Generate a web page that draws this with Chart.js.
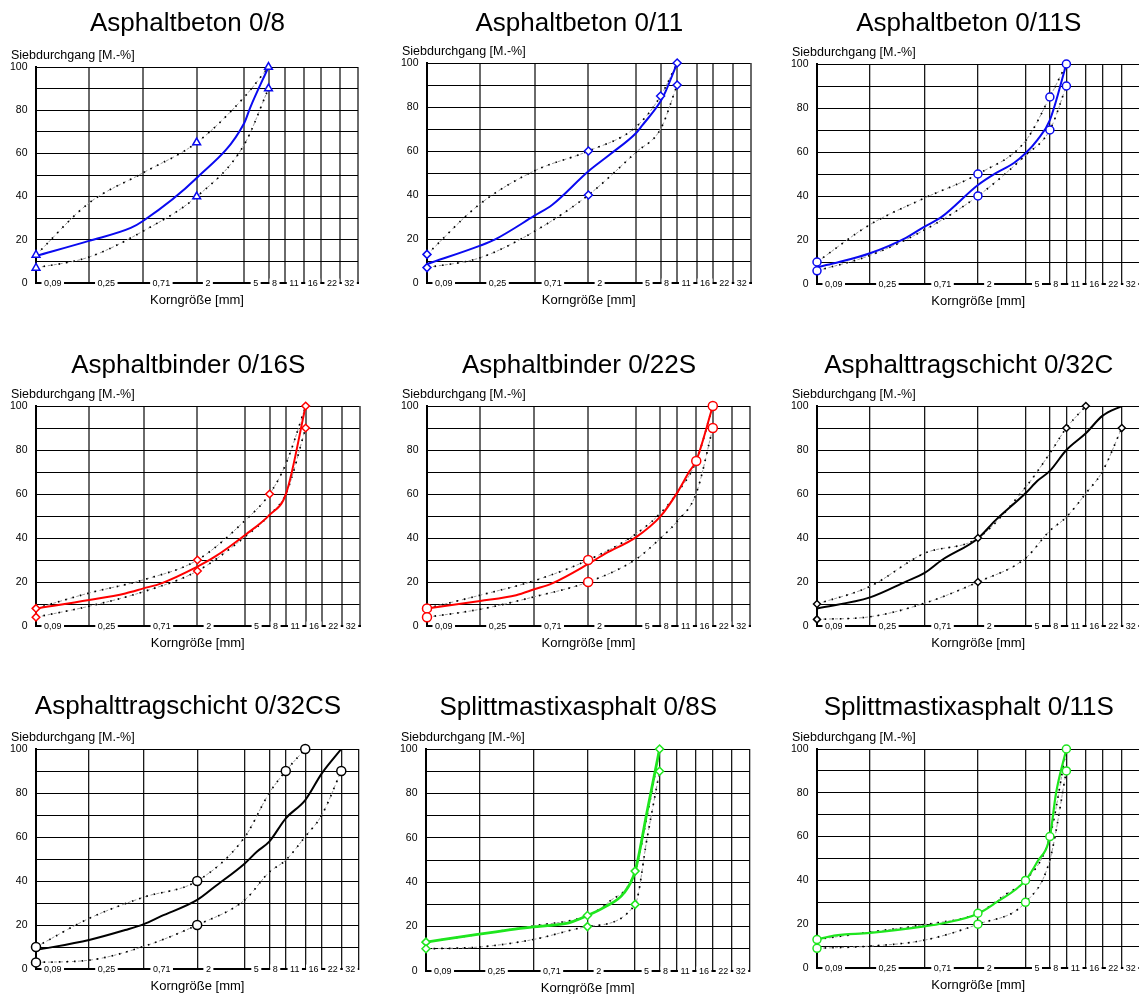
<!DOCTYPE html>
<html><head><meta charset="utf-8">
<script src="https://cdn.jsdelivr.net/npm/chart.js@4/dist/chart.umd.min.js"></script>
<style>
html,body{margin:0;padding:0;background:#fff;overflow:hidden;width:1139px;height:994px;position:relative}
canvas{position:absolute}
</style>
</head><body>
<script>
// ---- axis data ----
const sieveSizes  = [0.09, 0.25, 0.71, 2, 5, 8, 11, 16, 22, 32];
const sieveLabels = ['0,09', '0,25', '0,71', '2', '5', '8', '11', '16', '22', '32'];
const xMin = 0.09, xMax = 45;
const yTicksLabelled = [0, 20, 40, 60, 80, 100];

// ---- Asphaltbeton 0/8 ----
const ab8Upper = [[0.09,13],[0.25,37],[0.71,51],[2,65],[5,86],[8,100]];
const ab8Lower = [[0.09,7],[0.25,12],[0.71,24],[2,40],[5,64],[8,90]];
const ab8Curve = [[0.09,12.5],[0.25,19.5],[0.56,25.5],[0.71,28.7],[2,48.6],[5,74],[5.6,81],[8,100]];
const ab8Marks = [[0.09,13],[0.09,7],[2,65],[2,40],[8,100],[8,90]];

// ---- Asphaltbeton 0/11 ----
const ab11Upper = [[0.09,13],[0.25,36],[0.71,51],[2,60],[5,71],[8,85],[11,100]];
const ab11Lower = [[0.09,7],[0.25,11.5],[0.71,23.5],[2,40],[5,59.5],[8,70],[11,90]];
const ab11Curve = [[0.09,8.6],[0.25,17],[0.33,19.7],[0.71,30.6],[1,35.6],[2,50.8],[3,58.3],[5,68.2],[5.6,71.5],[8,82.6],[8.8,87],[11,100]];
const ab11Marks = [[0.09,13],[0.09,7],[2,60],[2,40],[8,85],[11,100],[11,90]];

// ---- Asphaltbeton 0/11S ----
const ab11sUpper = [[0.09,10],[0.25,27],[0.71,39],[2,50],[5,65],[8,85],[11,100]];
const ab11sLower = [[0.09,6],[0.25,13],[0.71,24.5],[2,40],[5,58.5],[8,70],[11,90]];
const ab11sCurve = [[0.09,7.6],[0.125,9.4],[0.25,14],[0.5,21],[0.71,26],[1,30.6],[2,45],[2.8,50.3],[4,55],[5,59.4],[6.3,65.5],[8,74.5],[11,100]];
const ab11sMarks = [[0.09,10],[0.09,6],[2,50],[2,40],[8,85],[8,70],[11,100],[11,90]];

// ---- Asphaltbinder 0/16S ----
const bi16Upper = [[0.09,8],[0.25,15],[0.71,21],[2,30],[5,48],[8,60],[11,74],[16,100]];
const bi16Lower = [[0.09,4],[0.25,9],[0.71,15.6],[2,25],[5,40.6],[8,50.5],[11,60.3],[16,90]];
const bi16Curve = [[0.09,8],[0.25,11.8],[0.5,14.8],[0.71,17.1],[1,19.4],[2,27],[2.8,31.5],[5,41.4],[8,50.5],[11,60.3],[16,100]];
const bi16Marks = [[0.09,8],[0.09,4],[2,30],[2,25],[8,60],[16,100],[16,90]];

// ---- Asphaltbinder 0/22S ----
const bi22Upper = [[0.09,8],[0.25,14],[0.71,20.6],[2,30],[5,41.8],[8,51.2],[11,60.3],[16,75],[22,100]];
const bi22Lower = [[0.09,4],[0.25,7.6],[0.71,13.3],[2,20],[5,30.3],[8,39.8],[11,47.4],[16,60.3],[22,90]];
const bi22Curve = [[0.09,8],[0.25,11.4],[0.5,14],[0.71,16.7],[1,19.4],[2,28.2],[2.8,33],[5,40.3],[8,49.7],[11,60.3],[14,70.2],[16,75.2],[22,100]];
const bi22Marks = [[0.09,8],[0.09,4],[2,30],[2,20],[16,75],[22,100],[22,90]];

// ---- Asphalttragschicht 0/32C ----
const at32cUpper = [[0.09,10],[0.25,18],[0.71,33],[2,40],[5,63],[8,78.5],[11,90],[16,100]];
const at32cLower = [[0.09,3],[0.25,4.2],[0.71,10.3],[2,20],[5,30.8],[8,43.3],[11,49.5],[16,60.3],[22,70.2],[32,90]];
const at32cCurve = [[0.09,8],[0.25,13],[0.5,20.2],[0.71,24],[1,30],[2,39.8],[2.8,48],[5,60.3],[6.3,66],[8,70.5],[11,80],[16,87.6],[22,95.5],[32,100]];
const at32cMarks = [[0.09,10],[0.09,3],[2,40],[2,20],[11,90],[16,100],[32,90]];

// ---- Asphalttragschicht 0/32CS ----
const at32csUpper = [[0.09,10],[0.25,23],[0.71,32.6],[2,40],[5,60],[8,80],[11,90],[16,100]];
const at32csLower = [[0.09,3],[0.25,4],[0.71,10.2],[2,20],[5,31.4],[8,44],[11,49.5],[16,60.2],[22,70],[32,90]];
const at32csCurve = [[0.09,8.6],[0.25,13.2],[0.5,17.7],[0.71,20.3],[1,24],[2,31.4],[2.8,37.4],[5,48],[6.3,53.3],[8,57.9],[11,68.5],[16,76.8],[22,88.9],[32,100]];
const at32csMarks = [[0.09,10],[0.09,3],[2,40],[2,20],[11,90],[16,100],[32,90]];

// ---- Splittmastixasphalt 0/8S ----
const sma8Upper = [[0.09,13],[0.25,16.6],[0.71,20.3],[2,25],[3,31],[5,45],[6.3,70],[8,100]];
const sma8Lower = [[0.09,10],[0.25,10.8],[0.71,14.2],[2,20],[5,30],[6.3,60],[8,90]];
const sma8Curve = [[0.09,13],[0.25,16.6],[0.71,19.9],[1,20.6],[1.4,21.7],[2,25],[2.8,28.9],[4,34.9],[5,45],[6.3,72],[8,100]];
const sma8Marks = [[0.09,13],[0.09,10],[2,25],[2,20],[5,45],[5,30],[8,100],[8,90]];

// ---- Splittmastixasphalt 0/11S ----
const sma11Upper = [[0.09,13],[0.25,16.4],[0.71,19.8],[2,25],[3.5,34],[5,40],[8,60],[11,100]];
const sma11Lower = [[0.09,9],[0.25,10],[0.71,12.7],[2,20],[5,30],[8,49.4],[11,90]];
const sma11Curve = [[0.09,13],[0.125,14.8],[0.25,16],[0.71,19],[1,20.3],[2,24.8],[2.8,29.7],[5,40],[6.3,48.6],[8,60],[9,79.7],[11,100]];
const sma11Marks = [[0.09,13],[0.09,9],[2,25],[2,20],[5,40],[5,30],[8,60],[11,100],[11,90]];

// ---- layout / style (not data) ----
const FONT = '"Liberation Sans", Arial, Helvetica, sans-serif';
const labelOffsets = [8, 8.6, 9.6, 8.7, 9, 3.5, 4.3, 3.3, 6, 4];
const GRAY = {c:'#6a6a6a', w:2}, DARK = {c:'#1a1a1a', w:1.3};
const panels = [
  {title:'Asphaltbeton 0/8', up:ab8Upper, lo:ab8Lower, cu:ab8Curve, mk:ab8Marks, color:'#0a0af0', marker:'triangle', r:4.5, box:[36,67,360,283], titleY:31, vg:GRAY, lw:2},
  {title:'Asphaltbeton 0/11', up:ab11Upper, lo:ab11Lower, cu:ab11Curve, mk:ab11Marks, color:'#0a0af0', marker:'rectRot', r:4, box:[427,63,752,283], titleY:31, vg:GRAY, lw:2},
  {title:'Asphaltbeton 0/11S', up:ab11sUpper, lo:ab11sLower, cu:ab11sCurve, mk:ab11sMarks, color:'#0a0af0', marker:'circle', r:4, box:[817,64,1141,284], titleY:31, vg:DARK, lw:2},
  {title:'Asphaltbinder 0/16S', up:bi16Upper, lo:bi16Lower, cu:bi16Curve, mk:bi16Marks, color:'#ff0000', marker:'rectRot', r:3.8, box:[36,406,360.5,626], titleY:373, vg:GRAY, lw:2},
  {title:'Asphaltbinder 0/22S', up:bi22Upper, lo:bi22Lower, cu:bi22Curve, mk:bi22Marks, color:'#ff0000', marker:'circle', r:4.5, box:[427,406,752,626], titleY:373, vg:GRAY, lw:2},
  {title:'Asphalttragschicht 0/32C', up:at32cUpper, lo:at32cLower, cu:at32cCurve, mk:at32cMarks, color:'#000000', marker:'rectRot', r:3.5, box:[817,406,1141,626], titleY:373, vg:DARK, lw:2},
  {title:'Asphalttragschicht 0/32CS', up:at32csUpper, lo:at32csLower, cu:at32csCurve, mk:at32csMarks, color:'#000000', marker:'circle', r:4.5, box:[36,749,360.5,969], titleY:714, vg:DARK, lw:2},
  {title:'Splittmastixasphalt 0/8S', up:sma8Upper, lo:sma8Lower, cu:sma8Curve, mk:sma8Marks, color:'#1ee61e', marker:'rectRot', r:4, box:[426,749,751,971], titleY:715, vg:DARK, lw:2.8},
  {title:'Splittmastixasphalt 0/11S', up:sma11Upper, lo:sma11Lower, cu:sma11Curve, mk:sma11Marks, color:'#1ee61e', marker:'circle', r:4, box:[817,749,1141,968], titleY:715, vg:DARK, lw:2.2}
];

const PAD_L = 36, PAD_T = 60, PAD_R = 4, PAD_B = 28;
const pts = arr => arr.map(p => ({x: p[0], y: p[1]}));

const textPlugin = {
  id: 'texts',
  afterDraw(chart, args, opts) {
    const ctx = chart.ctx, a = chart.chartArea, xs = chart.scales.x;
    ctx.save();
    // x tick labels sitting on the base line
    ctx.font = '9px ' + FONT;
    ctx.textBaseline = 'middle';
    ctx.textAlign = 'left';
    sieveSizes.forEach((v, i) => {
      const px = xs.getPixelForValue(v) + labelOffsets[i];
      const w = ctx.measureText(sieveLabels[i]).width;
      ctx.fillStyle = '#fff';
      ctx.fillRect(px - 2.5, a.bottom - 4.5, w + 5, 9);
      ctx.fillStyle = '#000';
      ctx.fillText(sieveLabels[i], px, a.bottom + 0.5);
    });
    // title
    ctx.textBaseline = 'alphabetic';
    ctx.textAlign = 'center';
    ctx.font = '26px ' + FONT;
    ctx.fillText(opts.title, (a.left + a.right) / 2 - 9.5, opts.titleY);
    // y heading
    ctx.textAlign = 'left';
    ctx.font = '12.5px ' + FONT;
    ctx.fillText('Siebdurchgang [M.-%]', a.left - 25, a.top - 8);
    // x heading
    ctx.textAlign = 'center';
    ctx.font = '13px ' + FONT;
    ctx.fillText('Korngröße [mm]', (a.left + a.right) / 2, a.bottom + 21);
    ctx.restore();
  }
};

panels.forEach((p) => {
  const [l, t, r, b] = p.box;
  const cv = document.createElement('canvas');
  const W = Math.round((r - l) + PAD_L + PAD_R);
  const H = Math.round((b - t) + PAD_T + PAD_B);
  cv.width = W; cv.height = H;
  const top = t - PAD_T;
  cv.style.left = (l - PAD_L) + 'px';
  cv.style.top = top + 'px';
  cv.style.width = W + 'px'; cv.style.height = H + 'px';
  document.body.appendChild(cv);

  const limitBase = (data) => ({
    data: pts(data), borderColor: '#9c9c9c', borderWidth: 1, borderDash: [3, 3],
    pointRadius: 0, cubicInterpolationMode: 'monotone', fill: false, order: 4
  });
  const limitDots = (data) => ({
    data: pts(data), borderColor: '#000', borderWidth: 1.7, borderDash: [1.6, 6],
    pointRadius: 0, cubicInterpolationMode: 'monotone', fill: false, order: 3
  });

  new Chart(cv, {
    type: 'line',
    data: {
      datasets: [
        {data: pts(p.mk), showLine: false, pointStyle: p.marker, pointRadius: p.r,
         pointBorderColor: p.color, pointBackgroundColor: '#fff', pointBorderWidth: 1.5,
         clip: false, order: 0},
        {data: pts(p.cu), borderColor: p.color, borderWidth: p.lw, pointRadius: 0,
         cubicInterpolationMode: 'monotone', fill: false, order: 1},
        limitDots(p.up), limitDots(p.lo),
        limitBase(p.up), limitBase(p.lo)
      ]
    },
    options: {
      responsive: false, animation: false, devicePixelRatio: 1,
      layout: {padding: {left: 0, top: PAD_T, right: PAD_R, bottom: PAD_B}},
      plugins: {legend: {display: false}, tooltip: {enabled: false}, title: {display: false},
                texts: {title: p.title, titleY: p.titleY - top}},
      scales: {
        x: {
          type: 'logarithmic', min: xMin, max: xMax,
          afterBuildTicks: s => { s.ticks = sieveSizes.concat([xMax]).map(v => ({value: v})); },
          afterFit: s => { s.height = 0; },
          ticks: {display: false},
          grid: {color: p.vg.c, lineWidth: p.vg.w, drawTicks: false},
          border: {color: '#000', width: 2}
        },
        y: {
          min: 0, max: 100,
          afterFit: s => { s.width = PAD_L; },
          ticks: {stepSize: 10, padding: 8.5, color: '#000',
                  font: {family: FONT, size: 10.5},
                  callback: v => yTicksLabelled.includes(v) ? String(v) : ''},
          grid: {color: '#000', lineWidth: 1, drawTicks: false},
          border: {color: '#000', width: 2}
        }
      }
    },
    plugins: [textPlugin]
  });
});
</script>
</body></html>
